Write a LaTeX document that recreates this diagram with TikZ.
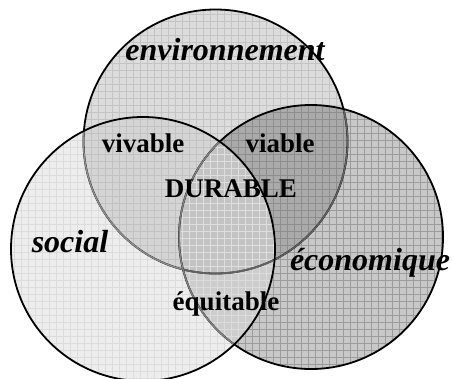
\documentclass[tikz,border=0pt]{standalone}
\usepackage{fontspec}
\setmainfont{Liberation Serif}
\begin{document}
\begin{tikzpicture}[x=1pt,y=-1pt,
  outline/.style={line width=1.8pt,draw=black},
  faintline/.style={line width=1.5pt},
  bigitalic/.style={font=\fontsize{32}{36}\selectfont\bfseries\itshape,inner sep=0pt,anchor=base},
  boldlabel/.style={font=\fontsize{27}{31}\selectfont\bfseries,inner sep=0pt,anchor=base}]
\definecolor{cE}{HTML}{DCDCDC}\definecolor{gE}{HTML}{C4C4C4}
\definecolor{cC}{HTML}{C8C8C8}\definecolor{gC}{HTML}{9C9C9C}
\definecolor{cS}{HTML}{EDEDED}\definecolor{gS}{HTML}{DCDCDC}
\definecolor{cEC}{HTML}{AAAAAA}\definecolor{gEC}{HTML}{8E8E8E}
\definecolor{cES}{HTML}{D4D4D4}\definecolor{gES}{HTML}{C2C2C2}
\definecolor{cSC}{HTML}{CDCDCD}\definecolor{gSC}{HTML}{DCDCDC}
\definecolor{cESC}{HTML}{C3C3C3}\definecolor{gESC}{HTML}{DEDEDE}
\useasboundingbox (0,0) rectangle (454,378);
% circle centres
\coordinate (E) at (215.5,141.5);
\coordinate (C) at (311,237);
\coordinate (S) at (143,249);
\def\R{132}
% fill a clipped area with a flat tone and a square grid of 7pt cells
\newcommand\shadearea[2]{\fill[#1] (-10,-10) rectangle (464,400);
  \foreach \k in {0,...,66}{
    \draw[#2,line width=0.6pt] (\k*7,-10) -- (\k*7,400);
    \draw[#2,line width=0.6pt] (-10,\k*7) -- (464,\k*7);}}
% single circles
\begin{scope}\clip (E) circle (\R); \shadearea{cE}{gE}\end{scope}
\begin{scope}\clip (C) circle (\R); \shadearea{cC}{gC}\end{scope}
\begin{scope}\clip (S) circle (\R); \shadearea{cS}{gS}\end{scope}
% pairwise overlaps
\begin{scope}\clip (E) circle (\R); \clip (C) circle (\R); \shadearea{cEC}{gEC}\end{scope}
\begin{scope}\clip (E) circle (\R); \clip (S) circle (\R); \shadearea{cES}{gES}\end{scope}
\begin{scope}\clip (S) circle (\R); \clip (C) circle (\R); \shadearea{cSC}{gSC}\end{scope}
% triple overlap
\begin{scope}\clip (E) circle (\R); \clip (S) circle (\R); \clip (C) circle (\R);
  \shadearea{cESC}{gESC}\end{scope}
% outlines: environment
\draw[outline] (E) circle (\R);
\begin{scope}\clip (S) circle (\R); \draw[faintline,draw=black!45] (E) circle (\R);\end{scope}
\begin{scope}\clip (C) circle (\R); \draw[faintline,draw=black!62] (E) circle (\R);\end{scope}
% outlines: economy
\draw[outline] (C) circle (\R);
\begin{scope}\clip (S) circle (\R); \draw[faintline,draw=black!50] (C) circle (\R);\end{scope}
% outlines: social
\draw[outline] (S) circle (\R);
% labels
\node[bigitalic] (env) at (225,60) {environnement};
\node[bigitalic] (soc) at (70,252) {social};
\node[bigitalic] (eco) at (370,270) {économique};
\node[boldlabel] (viv) at (143,152) {vivable};
\node[boldlabel] (via) at (280,152) {viable};
\node[boldlabel] (dur) at (231,197) {DURABLE};
\node[boldlabel] (equ) at (226,310) {équitable};
\end{tikzpicture}
\end{document}
